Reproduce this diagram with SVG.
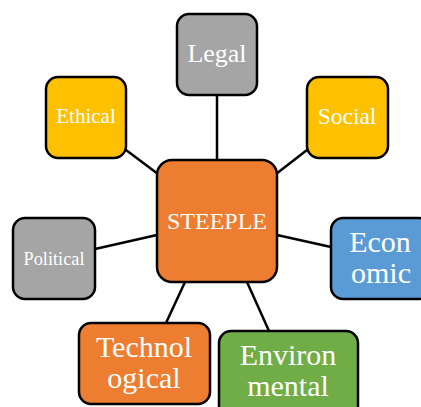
<svg xmlns="http://www.w3.org/2000/svg" width="421" height="407" viewBox="0 0 421 407">
  <style>
    .box { stroke: #000; stroke-width: 2.5; }
    .gray { fill: #A5A5A5; }
    .yellow { fill: #FFC000; }
    .orange { fill: #ED7D31; }
    .blue { fill: #5B9BD5; }
    .green { fill: #70AD47; }
    .lbl { font-family: "Liberation Serif", "Times New Roman", serif; fill: #fff; text-anchor: middle; }
    .link { stroke: #000; stroke-width: 2.5; fill: none; }
  </style>
  <rect width="421" height="407" fill="#fff"/>
  <g id="connectors">
    <line class="link" x1="217" y1="95" x2="217" y2="160"/>
    <line class="link" x1="126" y1="150" x2="158" y2="174"/>
    <line class="link" x1="307" y1="150" x2="276" y2="174"/>
    <line class="link" x1="95" y1="249" x2="157" y2="235"/>
    <line class="link" x1="277" y1="235" x2="331" y2="247"/>
    <line class="link" x1="185" y1="282" x2="166" y2="323"/>
    <line class="link" x1="247" y1="282" x2="269" y2="331"/>
  </g>
  <g id="legal">
    <rect class="box gray" x="177" y="14" width="80" height="81" rx="12"/>
    <text class="lbl" x="217" y="62" font-size="26">Legal</text>
  </g>
  <g id="ethical">
    <rect class="box yellow" x="46" y="77" width="80" height="81" rx="12"/>
    <text class="lbl" x="86" y="123" font-size="21">Ethical</text>
  </g>
  <g id="social">
    <rect class="box yellow" x="307" y="77" width="81" height="81" rx="12"/>
    <text class="lbl" x="347" y="124" font-size="23.5">Social</text>
  </g>
  <g id="steeple">
    <rect class="box orange" x="157" y="160" width="120" height="122" rx="15"/>
    <text class="lbl" x="217" y="229" font-size="24">STEEPLE</text>
  </g>
  <g id="political">
    <rect class="box gray" x="13" y="218" width="82" height="81" rx="12"/>
    <text class="lbl" x="54" y="265" font-size="18.3">Political</text>
  </g>
  <g id="economic">
    <rect class="box blue" x="331" y="218" width="100" height="81" rx="12"/>
    <text class="lbl" x="380" y="252" font-size="30">Econ</text>
    <text class="lbl" x="381" y="283" font-size="30">omic</text>
  </g>
  <g id="technological">
    <rect class="box orange" x="79" y="323" width="131" height="81" rx="12"/>
    <text class="lbl" x="144" y="357" font-size="30">Technol</text>
    <text class="lbl" x="144" y="388" font-size="30">ogical</text>
  </g>
  <g id="environmental">
    <rect class="box green" x="219" y="331" width="139" height="90" rx="12"/>
    <text class="lbl" x="288" y="364.5" font-size="30">Environ</text>
    <text class="lbl" x="288" y="395.5" font-size="30">mental</text>
  </g>
</svg>
